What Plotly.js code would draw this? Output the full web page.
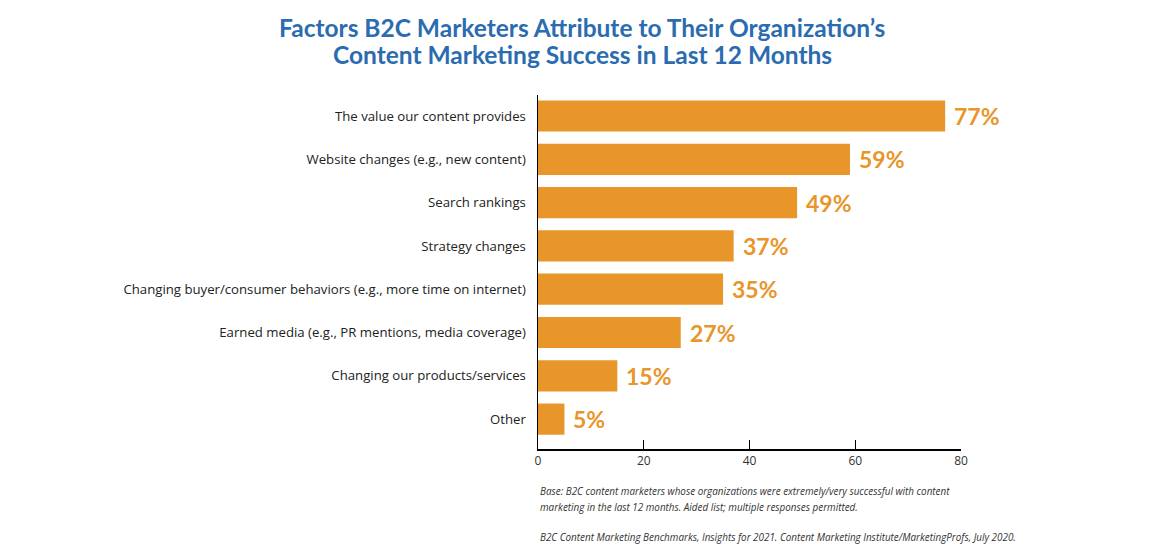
<!DOCTYPE html>
<html><head><meta charset="utf-8">
<script src="https://cdn.plot.ly/plotly-3.0.1.min.js"></script>
<style>body{margin:0;background:#fff}#c{width:1157px;height:552px}</style>
</head><body><div id="c"></div>
<script>
const categories = [
  "The value our content provides",
  "Website changes (e.g., new content)",
  "Search rankings",
  "Strategy changes",
  "Changing buyer/consumer behaviors (e.g., more time on internet)",
  "Earned media (e.g., PR mentions, media coverage)",
  "Changing our products/services",
  "Other"
];
const values = [77, 59, 49, 37, 35, 27, 15, 5];
const valueLabels = values.map(v => v + "%");
const xTicks = [0, 20, 40, 60, 80];
const titleLines = ["Factors B2C Marketers Attribute to Their Organization’s", "Content Marketing Success in Last 12 Months"];
const noteLines = [
  "Base: B2C content marketers whose organizations were extremely/very successful with content",
  "marketing in the last 12 months. Aided list; multiple responses permitted.",
  "B2C Content Marketing Benchmarks, Insights for 2021. Content Marketing Institute/MarketingProfs, July 2020."
];

const orange = "#E8952A";
const trace = {
  type: "bar", orientation: "h",
  x: values, y: categories,
  marker: {color: orange},
  width: 0.72,
  hoverinfo: "none"
};
const valueAnnotations = values.map((v, i) => ({
  x: v, y: categories[i], xref: "x", yref: "y",
  text: "<b>" + valueLabels[i] + "</b>", showarrow: false,
  xanchor: "left", yanchor: "middle", xshift: 7, yshift: 0,
  font: {family: "Lato, 'Open Sans', sans-serif", size: 23, color: orange}
}));
// plot area: top 95px, bottom 449px (354px tall) -> paper y from pixel
const py = p => (449 - p) / 354;
const titleAnnotations = titleLines.map((t, i) => ({
  xref: "paper", yref: "paper", x: 0.105, y: py([27, 55][i]), xanchor: "center", yanchor: "middle",
  text: "<b>" + t + "</b>", showarrow: false,
  font: {family: "Lato, 'Open Sans', sans-serif", size: 24.5, color: "#2B6CB0"}
}));
const footFont = {family: "'Open Sans', 'DejaVu Sans', sans-serif", size: 9.9, color: "#333"};
const noteAnnotations = noteLines.map((t, i) => ({
  xref: "paper", yref: "paper", x: 0, y: py([491, 507, 537][i]), xanchor: "left", yanchor: "middle",
  text: "<i>" + t + "</i>", showarrow: false, font: footFont
}));
const layout = {
  width: 1157, height: 552,
  margin: {l: 538, r: 196, t: 95, b: 103},
  paper_bgcolor: "#fff", plot_bgcolor: "#fff",
  showlegend: false,
  xaxis: {range: [0, 80], tickvals: xTicks, ticks: "inside", ticklen: 9, tickcolor: "#000",
    showline: true, linecolor: "#000", linewidth: 1.5, showgrid: false, zeroline: false,
    tickfont: {family: "'Open Sans', 'DejaVu Sans', sans-serif", size: 12, color: "#333"}, fixedrange: true},
  yaxis: {type: "category", categoryorder: "array", categoryarray: categories,
    range: [7.69, -0.485], showline: true, linecolor: "#000", linewidth: 1.5,
    ticks: "", showgrid: false, ticklabelstandoff: 8,
    tickfont: {family: "'Open Sans', 'DejaVu Sans', sans-serif", size: 13.2, color: "#222"}, fixedrange: true},
  annotations: titleAnnotations.concat(noteAnnotations, valueAnnotations)
};
Plotly.newPlot("c", [trace], layout, {displayModeBar: false, staticPlot: true});
</script></body></html>
